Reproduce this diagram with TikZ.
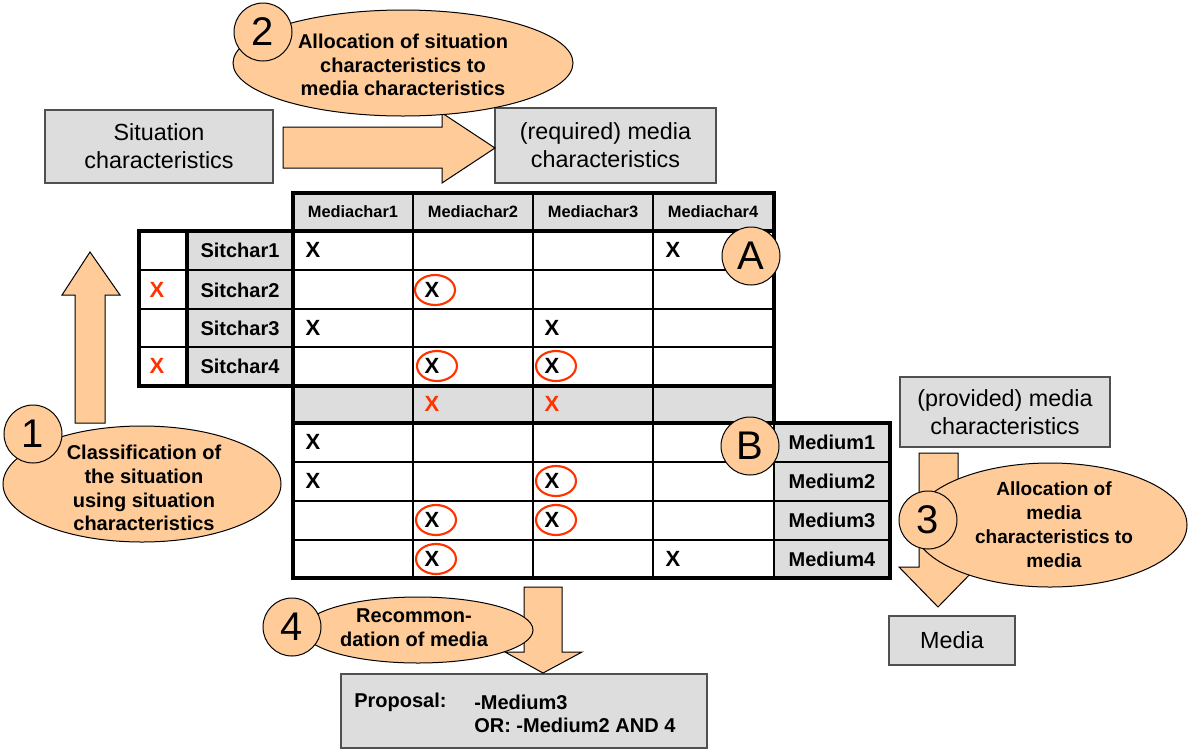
\documentclass[tikz,border=0pt]{standalone}
\usepackage{fontspec}
\setmainfont{Liberation Sans}
\usetikzlibrary{shapes.geometric}
\definecolor{peach}{HTML}{FFCC99}
\definecolor{cellgray}{HTML}{DDDDDD}
\definecolor{boxline}{HTML}{505050}
\definecolor{markred}{HTML}{FF3300}

\begin{document}
\begin{tikzpicture}[x=0.75pt,y=-0.75pt,
  gbox/.style={draw=boxline,fill=cellgray,line width=0.9pt,inner sep=0pt,align=center,
    font=\fontsize{17.5}{21}\selectfont},
  peachshape/.style={fill=peach,draw=black,line width=0.75pt},
  bubble/.style={ellipse,peachshape,inner sep=0pt},
  bubbletext/.style={align=center,inner sep=0pt,font=\bfseries\fontsize{15}{17.8}\selectfont},
  stepnum/.style={circle,peachshape,minimum size=43.5pt,inner sep=0pt,font=\fontsize{30}{30}\selectfont},
  gridthin/.style={line width=1.1pt,black},
  gridthick/.style={line width=3pt,black,line join=miter},
  headlbl/.style={font=\bfseries\fontsize{12.3}{14}\selectfont,inner sep=0pt},
  rowlbl/.style={font=\bfseries\fontsize{15}{17}\selectfont,inner sep=0pt},
  mk/.style={font=\bfseries\fontsize{16.5}{16.5}\selectfont,inner sep=0pt},
  redmk/.style={mk,text=markred},
  ring/.style={ellipse,draw=markred,line width=1.6pt,minimum width=30pt,minimum height=22.5pt,inner sep=0pt},
  proptext/.style={font=\bfseries\fontsize{15}{17}\selectfont,inner sep=0pt,anchor=west}
]
\useasboundingbox (0,0) rectangle (1189,751);

% ---------- grey boxes ----------
\node[gbox,minimum width=171pt,minimum height=54.75pt] (sit) at (159,146.5) {Situation\\characteristics};
\node[gbox,minimum width=165.75pt,minimum height=56.25pt] (req) at (605.5,145.5) {(required) media\\characteristics};
\node[gbox,minimum width=157.5pt,minimum height=52.5pt] (prov) at (1005,412) {(provided) media\\characteristics};
\node[gbox,minimum width=94.5pt,minimum height=36.75pt] (media) at (952,640.5) {Media};
\node[gbox,minimum width=274.5pt,minimum height=55.5pt] (prop) at (524,711) {};
\node[proptext] (propA) at (354,702) {Proposal:};
\node[proptext] (propB) at (474,702) {-Medium3};
\node[proptext] (propC) at (474,725) {OR: -Medium2 AND 4};

% ---------- block arrows ----------
\draw[peachshape] (283,127) -- (442,127) -- (442,113) -- (495,148) -- (442,183) -- (442,168) -- (283,168) -- cycle;
\draw[peachshape] (75,423) -- (75,295) -- (62,295) -- (90,252) -- (120,295) -- (105,295) -- (105,423) -- cycle;
\draw[peachshape] (919,453) -- (958,453) -- (958,567) -- (977,567) -- (938,607) -- (899,567) -- (919,567) -- cycle;
\draw[peachshape] (524,587) -- (562,587) -- (562,652) -- (582,652) -- (543,673) -- (505,652) -- (524,652) -- cycle;

% ---------- step bubbles ----------
\node[bubble,minimum width=255pt,minimum height=79.5pt] (b2) at (403,63) {};
\node[bubbletext] (t2) at (403,65) {Allocation of situation\\characteristics to\\media characteristics};
\node[stepnum] (n2) at (263,32) {2};

\node[bubble,minimum width=208.5pt,minimum height=87pt] (b1) at (142,484) {};
\node[bubbletext] (t1) at (144,488) {Classification of\\the situation\\using situation\\characteristics};
\node[stepnum] (n1) at (33,434) {1};

\node[bubble,minimum width=205.5pt,minimum height=93pt] (b3) at (1050,525) {};
\node[bubbletext,font=\bfseries\fontsize{14.3}{18}\selectfont] (t3) at (1054,525) {Allocation of\\media\\characteristics to\\media};
\node[stepnum] (n3) at (928,520) {3};

\node[bubble,minimum width=172.5pt,minimum height=49.5pt] (b4) at (418,630) {};
\node[bubbletext] (t4) at (414,628) {Recommon-\\dation of media};
\node[stepnum] (n4) at (292,627) {4};

% ---------- matrix: cell fills ----------
\fill[white] (139,231) rectangle (187,386);
\fill[cellgray] (187,231) rectangle (293,386);
\fill[cellgray] (293,193) rectangle (774,231);
\fill[white] (293,231) rectangle (774,386);
\fill[cellgray] (293,386) rectangle (774,423);
\fill[white] (293,423) rectangle (774,578);
\fill[cellgray] (774,423) rectangle (890,578);

% ---------- matrix: grid lines ----------
\foreach \x in {413,533,653} \draw[gridthin] (\x,193) -- (\x,578);
\foreach \y in {270,309,347} \draw[gridthin] (139,\y) -- (774,\y);
\foreach \y in {462,501,540} \draw[gridthin] (293,\y) -- (890,\y);
\draw[gridthin,line width=1.6pt] (774,423) -- (774,578);
\draw[gridthick] (293,578) -- (293,193) -- (774,193) -- (774,423);
\draw[gridthick] (139,231) rectangle (774,386);
\draw[gridthick] (187,231) -- (187,386);
\draw[gridthick] (293,423) rectangle (890,578);

% ---------- matrix: headings ----------
\node[headlbl] (mc1) at (353,212) {Mediachar1};
\node[headlbl] (mc2) at (473,212) {Mediachar2};
\node[headlbl] (mc3) at (593,212) {Mediachar3};
\node[headlbl] (mc4) at (713,212) {Mediachar4};
\node[rowlbl] (sc1) at (240,250) {Sitchar1};
\node[rowlbl] (sc2) at (240,290) {Sitchar2};
\node[rowlbl] (sc3) at (240,328) {Sitchar3};
\node[rowlbl] (sc4) at (240,366) {Sitchar4};
\node[rowlbl] (me1) at (832,442) {Medium1};
\node[rowlbl] (me2) at (832,481) {Medium2};
\node[rowlbl] (me3) at (832,520) {Medium3};
\node[rowlbl] (me4) at (832,559) {Medium4};

% ---------- matrix: selected situation characteristics ----------
\node[redmk] (s2sel) at (157,290) {X};
\node[redmk] (s4sel) at (157,366) {X};

% ---------- matrix A entries ----------
\node[mk] (a11) at (313,250) {X};
\node[mk] (a14) at (673,250) {X};
\node[mk] (a22) at (432,290) {X};
\node[mk] (a31) at (313,328) {X};
\node[mk] (a33) at (552,328) {X};
\node[mk] (a42) at (432,366) {X};
\node[mk] (a43) at (552,366) {X};
\node[ring] (r22) at (435,290) {};
\node[ring] (r42) at (437,366) {};
\node[ring] (r43) at (556,366) {};

% ---------- resulting media characteristics ----------
\node[redmk] (req2) at (432,404) {X};
\node[redmk] (req3) at (552,404) {X};

% ---------- matrix B entries ----------
\node[mk] (b11) at (313,442) {X};
\node[mk] (b21) at (313,481) {X};
\node[mk] (b23) at (552,481) {X};
\node[mk] (b32) at (432,520) {X};
\node[mk] (b33) at (552,520) {X};
\node[mk] (b42) at (432,559) {X};
\node[mk] (b44) at (673,559) {X};
\node[ring] (q23) at (556,481) {};
\node[ring] (q32) at (436,520) {};
\node[ring] (q33) at (556,520) {};
\node[ring] (q42) at (436,559) {};

% ---------- matrix labels ----------
\node[stepnum] (labA) at (751,256) {A};
\node[stepnum] (labB) at (750,446) {B};
\end{tikzpicture}
\end{document}
